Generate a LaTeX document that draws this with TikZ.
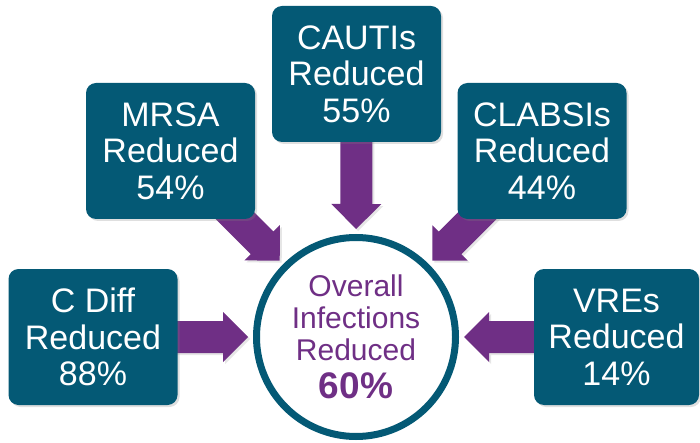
\documentclass[tikz,border=0pt]{standalone}
\usepackage{fontspec}
\setmainfont{Liberation Sans}
\usetikzlibrary{calc,shadows,backgrounds}
\definecolor{boxteal}{RGB}{4,89,117}
\definecolor{arrowpurple}{RGB}{111,47,133}
\newcommand\blockarrow[2]{%
  \coordinate (bah) at ($(#2)!25pt!(#1)$);
  \fill[arrowfill] ($(#1)!16pt!90:(#2)$) -- ($(bah)!16pt!90:(#2)$) --
    ($(bah)!25pt!90:(#2)$) -- (#2) -- ($(bah)!25pt!-90:(#2)$) --
    ($(bah)!16pt!-90:(#2)$) -- ($(#1)!16pt!-90:(#2)$) -- cycle;
}
\begin{document}
\begin{tikzpicture}[x=1pt,y=-1pt,
  box/.style={fill=boxteal, rounded corners=10pt, minimum width=169pt,
    minimum height=136pt, inner sep=0pt, text=white, align=center,
    font=\fontsize{34}{36.5}\selectfont,
    drop shadow={opacity=0.25, shadow xshift=2pt, shadow yshift=-2pt}},
  arrowfill/.style={fill=arrowpurple,
    drop shadow={opacity=0.2, shadow xshift=2pt, shadow yshift=-2pt}},
  hub/.style={circle, draw=boxteal, line width=7pt, fill=white,
    minimum size=199pt, inner sep=0pt, text=arrowpurple, align=center,
    font=\fontsize{30}{32}\selectfont,
    drop shadow={opacity=0.25, shadow xshift=2pt, shadow yshift=-2pt}}]
\useasboundingbox (0,0) rectangle (700,443);
\node[box] (cautis) at (356.5,74) {CAUTIs\\Reduced\\55\%};
\node[box] (mrsa) at (170.5,151) {MRSA\\Reduced\\54\%};
\node[box] (clabsis) at (542,151) {CLABSIs\\Reduced\\44\%};
\node[box] (cdiff) at (93,337) {C Diff\\Reduced\\88\%};
\node[box, minimum width=165pt] (vres) at (616.5,337) {VREs\\Reduced\\14\%};
\node[hub] (circ) at (356,337) {Overall\\Infections\\Reduced\\[6pt]{\fontsize{37}{40}\selectfont\bfseries 60\%}};
\coordinate (tcautis) at ($(circ.center)!108pt!(cautis.center)$);
\coordinate (tmrsa) at ($(circ.center)!108pt!(mrsa.center)$);
\coordinate (tclabsis) at ($(circ.center)!108pt!(clabsis.center)$);
\coordinate (tcdiff) at ($(circ.center)!108pt!(cdiff.center)$);
\coordinate (tvres) at ($(circ.center)!108pt!(vres.center)$);
\begin{scope}[on background layer]
\blockarrow{cautis.center}{tcautis}
\blockarrow{mrsa.center}{tmrsa}
\blockarrow{clabsis.center}{tclabsis}
\blockarrow{cdiff.center}{tcdiff}
\blockarrow{vres.center}{tvres}
\end{scope}
\end{tikzpicture}
\end{document}
